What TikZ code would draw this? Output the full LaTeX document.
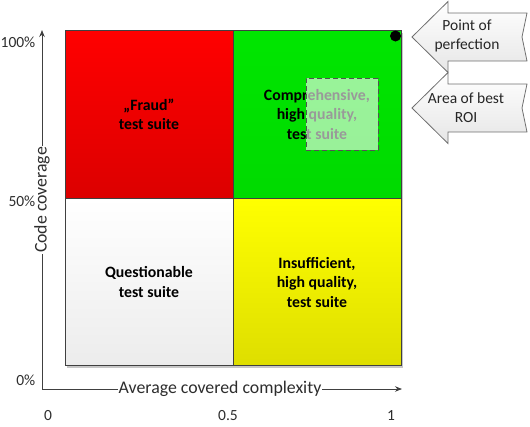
\documentclass[tikz,border=0pt]{standalone}
\usepackage{fontspec}
\setmainfont{Carlito}
\usetikzlibrary{arrows.meta,shadows}
\definecolor{edge}{HTML}{404040}
\definecolor{redtop}{HTML}{FF0000}
\definecolor{redbot}{HTML}{DC0000}
\definecolor{greentop}{HTML}{00E600}
\definecolor{greenbot}{HTML}{00DA00}
\definecolor{whitetop}{HTML}{FFFFFF}
\definecolor{whitebot}{HTML}{ECECEC}
\definecolor{yellowtop}{HTML}{FFFF00}
\definecolor{yellowbot}{HTML}{DEDE00}
\definecolor{calloutedge}{HTML}{707070}
\definecolor{calloutbot}{HTML}{E6E6E6}
\begin{document}
\begin{tikzpicture}[x=1pt,y=-1pt,
  quad/.style={draw=edge, line width=0.9pt, minimum width=168pt, minimum height=167.5pt,
    inner sep=0pt, align=center, font=\fontsize{15.8}{19.5}\selectfont\bfseries,
    drop shadow={shadow xshift=2pt, shadow yshift=-2pt, opacity=0.22, fill=black}},
  axisline/.style={draw=edge, line width=0.9pt},
  axislabel/.style={fill=white, inner sep=1pt, font=\fontsize{17.8}{20}\selectfont, text=edge!70!black},
  ticklabel/.style={inner sep=0pt, font=\fontsize{15.5}{18}\selectfont, text=edge!70!black},
  callout/.style={draw=calloutedge, line width=0.8pt, top color=white, bottom color=calloutbot},
  callouttext/.style={align=center, inner sep=0pt, font=\fontsize{15.5}{19}\selectfont, text=black!85},
  roibox/.style={draw=edge!90, line width=0.9pt, dash pattern=on 5pt off 3pt, fill=white, fill opacity=0.6, minimum width=72pt, minimum height=72pt, inner sep=0pt}
]
\path[use as bounding box] (0,0) rectangle (530,426);

% quadrants
\node[quad, top color=redtop, bottom color=redbot] (q1) at (149,114.5) {„Fraud”\\test suite};
\node[quad, top color=greentop, bottom color=greenbot] (q2) at (317,114.5) {Comprehensive,\\high quality,\\test suite};
\node[quad, top color=whitetop, bottom color=whitebot] (q3) at (149,282) {Questionable\\test suite};
\node[quad, top color=yellowtop, bottom color=yellowbot] (q4) at (317,282) {Insufficient,\\high quality,\\test suite};

% area of best ROI
\node[roibox] (roi) at (342,114) {};

% point of perfection
\node[circle, fill=black, minimum size=11pt, inner sep=0pt] (pp) at (395.5,36) {};

% axes
\coordinate (origin) at (42,389);
\coordinate (ytop) at (42,30);
\coordinate (xend) at (402,389);
\draw[axisline, -{Stealth[length=7pt,width=5.5pt]}] (origin) -- (ytop);
\draw[axisline, -{Stealth[length=7pt,width=5.5pt]}] (origin) -- (xend);
\node[axislabel, rotate=90] (ylab) at (42,200) {Code coverage};
\node[axislabel] (xlab) at (220,389) {Average covered complexity};

% tick labels
\node[ticklabel, anchor=east] (t100) at (35.5,42) {100\%};
\node[ticklabel, anchor=east] (t50) at (35.5,201) {50\%};
\node[ticklabel, anchor=east] (t0) at (35.5,380) {0\%};
\node[ticklabel] (x0) at (48,416) {0};
\node[ticklabel] (x05) at (228,416) {0.5};
\node[ticklabel] (x1) at (391,416) {1};

% callouts
\draw[callout] (412,37) -- (448,1.5) -- (448,13) -- (527,13) -- (522,37) -- (527,61) -- (448,61) -- (448,72.5) -- cycle;
\node[callouttext] (c1) at (467,36) {Point of\\perfection};
\draw[callout] (412,108) -- (448,72.5) -- (448,84) -- (527,84) -- (522,108) -- (527,132) -- (448,132) -- (448,143.5) -- cycle;
\node[callouttext] (c2) at (466,108) {Area of best\\ROI};
\end{tikzpicture}
\end{document}
